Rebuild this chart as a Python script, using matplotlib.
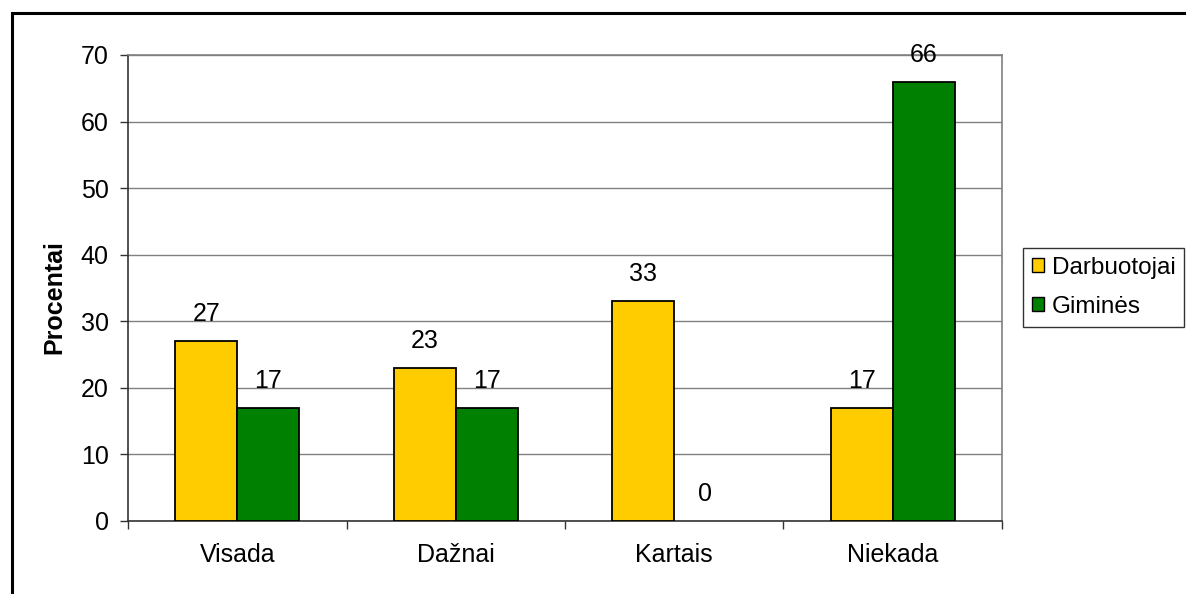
import matplotlib
matplotlib.use("Agg")
import matplotlib.pyplot as plt
from matplotlib.patches import Rectangle
import numpy as np

categories = ["Visada", "Dažnai", "Kartais", "Niekada"]
darbuotojai = [27, 23, 33, 17]
gimines = [17, 17, 0, 66]
series_names = ["Darbuotojai", "Giminės"]
colors = ["#FFCC00", "#008000"]

plt.rcParams['font.family'] = ['Liberation Sans', 'DejaVu Sans']
FS = 18

W, H = 1186, 594
fig = plt.figure(figsize=(W/100, H/100), dpi=100)
# figure border
fig.patches.append(Rectangle((11.5/W, -0.1), 1.2, 1 - 13.5/H + 0.1, transform=fig.transFigure,
                             fill=False, edgecolor='black', linewidth=2.2, zorder=0))

ax = fig.add_axes([128/W, 1 - 521/H, (1002-128)/W, (521-55)/H])
x = np.arange(len(categories))
bw = 62/218.5
for offs, vals, col, name in [(-bw/2, darbuotojai, colors[0], series_names[0]),
                              (bw/2, gimines, colors[1], series_names[1])]:
    lws = [1.3 if v > 0 else 0 for v in vals]
    ax.bar(x + offs, vals, bw, color=col, edgecolor='black', linewidth=lws, label=name, zorder=3)
    for xi, v in zip(x + offs, vals):
        ax.annotate(str(v), (xi, v), xytext=(0, 20), textcoords='offset pixels',
                    ha='center', va='baseline', fontsize=FS)

ax.set_xlim(-0.5, len(categories) - 0.5)
ax.set_ylim(0, 70)
ax.set_yticks(range(0, 71, 10))
ax.set_xticks(x)
ax.set_xticklabels(categories, fontsize=FS)
ax.set_xticks(np.arange(-0.5, len(categories), 1), minor=True)
ax.tick_params(axis='x', which='major', length=0, pad=16)
ax.tick_params(axis='x', which='minor', length=6, width=1, color='#333333', direction='out')
ax.tick_params(axis='y', labelsize=FS, length=6, width=1, color='#333333', pad=8)
ax.yaxis.grid(True, color='#808080', linewidth=1, zorder=0)
ax.set_axisbelow(True)
for s in ['top', 'right']:
    ax.spines[s].set_color('#808080')
    ax.spines[s].set_linewidth(1.2)
for s in ['left', 'bottom']:
    ax.spines[s].set_color('#333333')
    ax.spines[s].set_linewidth(1.2)
ax.set_ylabel("Procentai", fontsize=FS, fontweight='bold')
ax.yaxis.set_label_coords(66/W, 0.5, transform=fig.transFigure)

leg = ax.legend(loc='upper left', bbox_to_anchor=(1023/W, 1 - 248/H), bbox_transform=fig.transFigure,
                fontsize=17.5, frameon=True, fancybox=False, edgecolor='black', handlelength=0.5,
                handleheight=0.5, handletextpad=0.35, borderpad=0.35, labelspacing=0.72, borderaxespad=0)
leg.get_frame().set_linewidth(1)
for h in leg.legend_handles:
    h.set_linewidth(1)

fig.savefig("out.png", dpi=100)
